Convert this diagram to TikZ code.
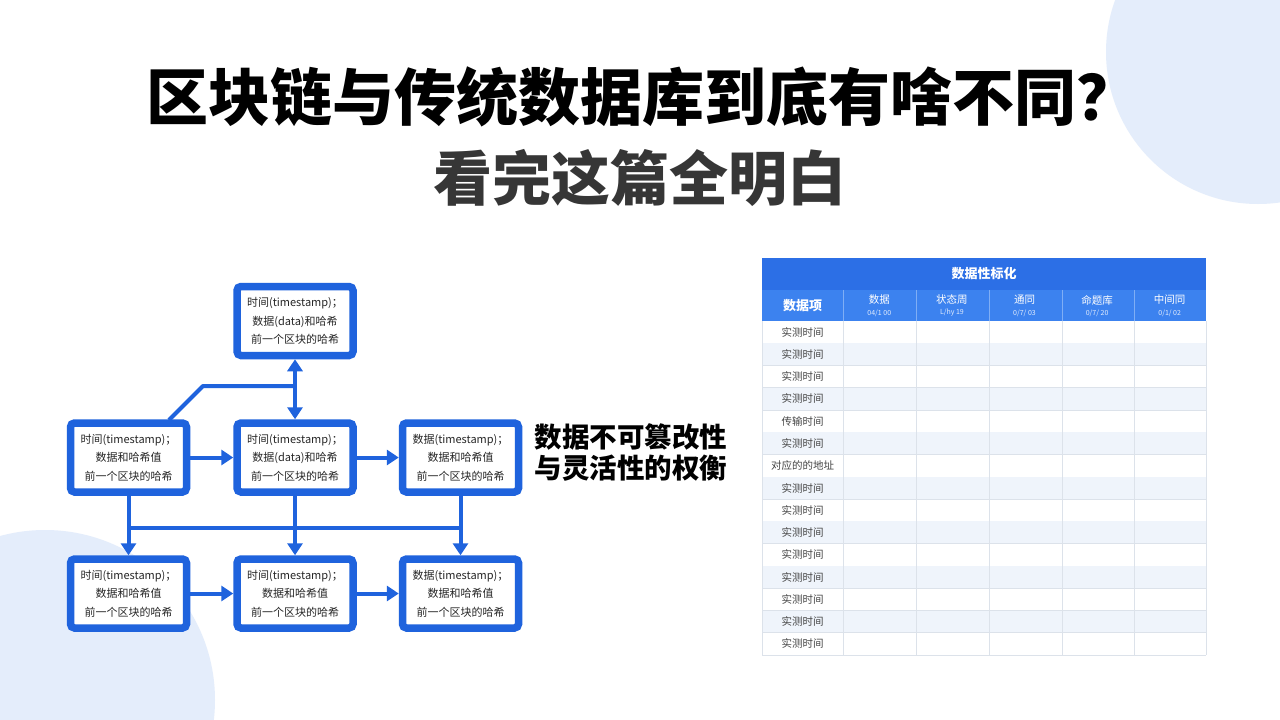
\documentclass[tikz,border=0pt]{standalone}
\usepackage{fontspec}
\setmainfont{Noto Sans CJK SC}
\usetikzlibrary{arrows.meta}
\definecolor{bblue}{HTML}{1F63DD}
\definecolor{circ}{HTML}{E4EDFB}
\definecolor{thead}{HTML}{2C6FE6}
\definecolor{hrow}{HTML}{3C82EF}
\definecolor{hline}{HTML}{7FAEF5}
\definecolor{grid}{HTML}{DCE2EA}
\definecolor{alt}{HTML}{EFF4FB}
\definecolor{sub}{HTML}{363636}
\definecolor{celltxt}{HTML}{444444}
\tikzset{
  blockbox/.style={draw=bblue, line width=7.5pt, rounded corners=4pt, fill=white,
    minimum width=116pt, minimum height=69pt, inner sep=0pt, align=center,
    text=black!85, font=\fontsize{11}{18.5}\selectfont},
  conn/.style={draw=bblue, line width=4pt},
  arr/.style={conn, -{Triangle[width=15pt,length=12pt]}},
  darr/.style={conn, {Triangle[width=15pt,length=12pt]}-{Triangle[width=15pt,length=12pt]}},
  celllab/.style={text=celltxt, font=\fontsize{10.5}{12}\selectfont, inner sep=0pt},
  headlab/.style={text=white, align=center, inner sep=0pt}
}
\begin{document}
\begin{tikzpicture}[x=1pt,y=-1pt]
\useasboundingbox (0,0) rectangle (1280,720);
\clip (0,0) rectangle (1280,720);
\fill[white] (0,0) rectangle (1280,720);
% decorative circles
\fill[circ] (1258,52) circle[radius=152];
\fill[circ] (45,700) circle[radius=170];

% titles
\node[font=\fontsize{62}{64}\selectfont\bfseries, text=black] (title) at (642,97) {区块链与传统数据库到底有啥不同？};
\node[font=\fontsize{59}{62}\selectfont\bfseries, text=sub] (subtitle) at (640,178) {看完这篇全明白};

% blocks
\node[blockbox] (T) at (295,321) {时间(timestamp)；\\数据(data)和哈希\\前一个区块的哈希};
\node[blockbox] (A) at (128.5,457.5) {时间(timestamp)；\\数据和哈希值\\前一个区块的哈希};
\node[blockbox] (B) at (295,457.5) {时间(timestamp)；\\数据(data)和哈希\\前一个区块的哈希};
\node[blockbox] (C) at (460.5,457.5) {数据(timestamp)；\\数据和哈希值\\前一个区块的哈希};
\node[blockbox] (D) at (128.5,593.5) {时间(timestamp)；\\数据和哈希值\\前一个区块的哈希};
\node[blockbox] (E) at (295,593.5) {时间(timestamp)；\\数据和哈希值\\前一个区块的哈希};
\node[blockbox] (F) at (460.5,593.5) {数据(timestamp)；\\数据和哈希值\\前一个区块的哈希};

% connectors
\draw[darr] (T.south) -- (B.north);
\coordinate (kA) at (169,420);
\coordinate (kB) at (203,386);
\coordinate (kC) at (295,386);
\draw[conn, line join=round] (kA) -- (kB) -- (kC);
\draw[arr] (A.east) -- (B.west);
\draw[arr] (B.east) -- (C.west);
\draw[arr] (A.south) -- (D.north);
\draw[arr] (B.south) -- (E.north);
\draw[arr] (C.south) -- (F.north);
\coordinate (bus1) at (128.5,528);
\coordinate (bus3) at (460.5,528);
\draw[conn] (bus1) -- (bus3);
\draw[arr] (D.east) -- (E.west);
\draw[arr] (E.east) -- (F.west);

% side caption
\node[font=\fontsize{27.5}{31}\selectfont\bfseries, align=left, anchor=west, text=black] (cap) at (531,452) {数据不可篡改性\\与灵活性的权衡};

% table
\fill[thead] (762,258) rectangle (1206,290);
\node[headlab, font=\fontsize{13}{14}\selectfont\bfseries] (tt) at (984,274) {数据性标化};
\fill[hrow] (762,290) rectangle (1206,321);
\foreach \xa in {843,916,989,1062,1134} {
  \draw[hline, line width=0.8pt] (\xa,290) -- (\xa,321);
}
\node[headlab, font=\fontsize{13}{14}\selectfont\bfseries] (h0) at (802.5,305.5) {数据项};
\foreach \nm/\dt [count=\k from 1] in {数据/{04/1 00}, 状态周/{L/hy 19}, 通同/{0/7/ 03}, 命题库/{0/7/ 20}, 中间同/{0/1/ 02}} {
  \pgfmathsetmacro\cx{843+(\k-0.5)*72.6}
  \node[headlab, font=\fontsize{10.5}{11}\selectfont] (h\k) at (\cx,300) {\nm};
  \node[headlab, font=\fontsize{7}{8}\selectfont, text=white!85!hrow] (d\k) at (\cx,313) {\dt};
}
\foreach \lab [count=\i from 0] in {实测时间,实测时间,实测时间,实测时间,传输时间,实测时间,对应的的地址,实测时间,实测时间,实测时间,实测时间,实测时间,实测时间,实测时间,实测时间} {
  \pgfmathsetmacro\ya{321+\i*22.27}
  \pgfmathsetmacro\yb{321+(\i+1)*22.27}
  \ifodd\i \fill[alt] (762,\ya) rectangle (1206,\yb); \fi
  \draw[grid, line width=0.7pt] (762,\yb) -- (1206,\yb);
  \node[celllab] (r\i) at (802.5,{(\ya+\yb)/2}) {\lab};
}
\foreach \xa in {762,843,916,989,1062,1134,1206} {
  \draw[grid, line width=0.7pt] (\xa,321) -- (\xa,655);
}
\end{tikzpicture}
\end{document}
